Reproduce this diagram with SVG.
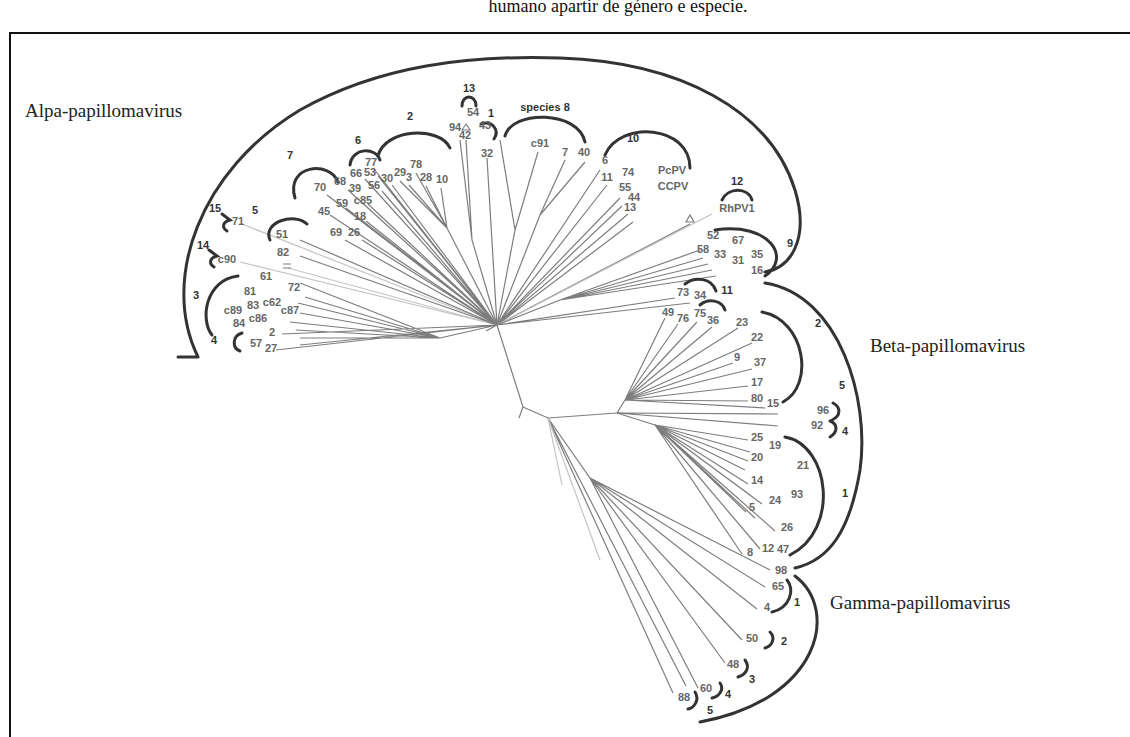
<svg xmlns="http://www.w3.org/2000/svg" width="1130" height="737" viewBox="0 0 1130 737">
<style>
.t{stroke:#7d7d7d;stroke-width:1.2;fill:none}
.tf{stroke:#c4c4c4;stroke-width:1.2;fill:none}
.a{stroke:#333;stroke-width:3;fill:none;stroke-linecap:round}
.n{font-family:"Liberation Sans",Arial,sans-serif;font-size:11px;font-weight:bold;fill:#666;text-anchor:middle}
.s{font-family:"Liberation Sans",Arial,sans-serif;font-size:11px;font-weight:bold;fill:#333;text-anchor:middle}
.g{font-family:"Liberation Serif","Times New Roman",serif;font-size:19px;fill:#222}
.cap{font-family:"Liberation Serif","Times New Roman",serif;font-size:18px;fill:#111;text-anchor:middle}
</style>
<rect width="1130" height="737" fill="#fff"/>
<text class="cap" x="618" y="12">humano apartir de género e especie.</text>
<path d="M10,737 V33 H1130" stroke="#111" stroke-width="2" fill="none"/>

<g id="branches">
<path class="t" d="M497,325 L523,407 L519,418 M523,407 L548,418 L617,413 M497,325 L486,331"/>
<path class="t" d="M497,325 L440,338 M440,338 L300,283 M440,338 L305,297 M440,338 L298,303 M440,338 L300,313 M440,338 L290,322 M440,338 L296,330 M440,338 L300,338 M497,325 L282,334 M497,325 L276,350 M497,325 L300,345"/>
<path class="tf" d="M497,325 L242,224 M497,325 L240,262 M497,325 L288,268"/>
<path class="t" d="M497,325 L300,240 M497,325 L300,256"/>
<path class="t" d="M497,325 L330,215 M497,325 L346,208 M497,325 L368,204 M497,325 L366,221 M497,325 L345,240 M497,325 L362,240 M497,325 L327,195 M497,325 L348,190 M497,325 L358,199 M497,325 L365,179 M497,325 L378,176 M497,325 L382,191 M497,325 L392,185 M497,325 L374,169"/>
<path class="t" d="M497,325 L447,228 M447,228 L400,181 M447,228 L409,185 M447,228 L416,173 M447,228 L426,186 M447,228 L441,188"/>
<path class="t" d="M497,325 L472,240 L466,140 M472,240 L460,140 M497,325 L487,158"/>
<path class="t" d="M497,325 L515,230 L500,140 M515,230 L538,152 M497,325 L540,215 L565,160 M540,215 L585,162"/>
<path class="t" d="M497,325 L600,170 M497,325 L607,185 M497,325 L620,198 M497,325 L622,206 M497,325 L628,214 M497,325 L633,222 M497,325 L690,224"/>
<path class="tf" d="M497,325 L712,214"/>
<path class="t" d="M497,325 L560,300 L700,250 M560,300 L703,258 M560,300 L708,264 M560,300 L712,270 M560,300 L716,276 M497,325 L675,298 M497,325 L690,303"/>
<path class="t" d="M617,413 L625,400 L665,318 M625,400 L678,324 M625,400 L697,322 M625,400 L712,327 M625,400 L738,328 M625,400 L752,343 M625,400 L733,363 M625,400 L752,369 M625,400 L748,386 M625,400 L748,401 M625,400 L765,408"/>
<path class="t" d="M617,413 L778,414 M617,413 L778,426"/>
<path class="t" d="M617,413 L655,425 L748,440 M655,425 L750,452 M655,425 L748,461 M655,425 L745,470 M655,425 L748,484 M655,425 L750,495 M655,425 L762,504 M655,425 L746,512 M655,425 L755,518 M655,425 L775,531 M655,425 L760,549 M655,425 L742,554"/>
<path class="t" d="M548,418 L590,478 L770,570 M590,478 L765,587 M590,478 L757,609 M590,478 L742,640 M590,478 L725,663 M590,478 L698,688 M548,418 L673,693 M548,418 L686,686"/>
<path class="tf" d="M548,418 L562,485 M548,418 L600,560"/>
<path class="t" d="M462,130 l4,-6 l4,6 z M686,222 l4,-7 l4,7 z M283,264 h8 M283,268 h8"/>
</g>

<g id="alpha">
<text class="g" x="25" y="117">Alpa-papillomavirus</text>
<path class="a" d="M178,357 H198 M198,357 C160,280 200,170 300,110 C380,65 470,55 560,58 C680,62 770,110 795,190 C810,240 790,268 765,272"/>
</g>
<g id="alpha-13"><path class="a" d="M462,106 C462,94 476,94 476,106"/><text class="s" x="469" y="92">13</text><text class="n" x="473" y="116">54</text></g>
<g id="alpha-1"><path class="a" d="M481,124 C492,120 500,130 494,139"/><text class="s" x="491" y="117">1</text><text class="n" x="465" y="139">42</text><text class="n" x="487" y="157">32</text></g>
<g id="alpha-8"><path class="a" d="M505,136 C512,110 578,110 585,142"/><text class="s" x="545" y="111">species 8</text><text class="n" x="485" y="129">43</text><text class="n" x="540" y="147">c91</text><text class="n" x="565" y="156">7</text><text class="n" x="584" y="156">40</text></g>
<g id="alpha-2"><path class="a" d="M378,156 C385,128 440,126 450,148"/><text class="s" x="410" y="120">2</text><text class="n" x="455" y="131">94</text><text class="n" x="371" y="166">77</text><text class="n" x="400" y="176">29</text><text class="n" x="409" y="181" font-size="9">3</text><text class="n" x="416" y="168">78</text><text class="n" x="426" y="181">28</text><text class="n" x="442" y="183">10</text></g>
<g id="alpha-6"><path class="a" d="M350,165 C352,147 376,147 380,160"/><text class="s" x="358" y="144">6</text><text class="n" x="356" y="177">66</text><text class="n" x="370" y="176">53</text><text class="n" x="374" y="189">56</text><text class="n" x="387" y="182">30</text></g>
<g id="alpha-7"><path class="a" d="M295,198 C285,165 330,160 338,182"/><text class="s" x="290" y="159">7</text><text class="n" x="320" y="191">70</text><text class="n" x="340" y="185">68</text><text class="n" x="355" y="192">39</text><text class="n" x="324" y="215">45</text><text class="n" x="342" y="207">59</text><text class="n" x="363" y="204">c85</text><text class="n" x="360" y="220">18</text></g>
<g id="alpha-5"><path class="a" d="M270,240 C262,222 295,212 307,224"/><text class="s" x="255" y="214">5</text><text class="n" x="282" y="238">51</text><text class="n" x="283" y="256">82</text><text class="n" x="336" y="236">69</text><text class="n" x="354" y="236">26</text></g>
<g id="alpha-15"><path class="a" d="M222,214 L230,220 C222,222 222,228 227,231"/><text class="s" x="215" y="212">15</text><text class="n" x="238" y="225">71</text></g>
<g id="alpha-14"><path class="a" d="M209,250 L217,256 C209,258 209,264 214,267"/><text class="s" x="203" y="249">14</text><text class="n" x="227" y="263">c90</text></g>
<g id="alpha-3"><path class="a" d="M238,276 C205,280 200,320 212,335"/><text class="s" x="196" y="299">3</text><text class="n" x="266" y="280">61</text><text class="n" x="250" y="295">81</text><text class="n" x="294" y="291">72</text><text class="n" x="272" y="306">c62</text><text class="n" x="233" y="314">c89</text><text class="n" x="253" y="309">83</text><text class="n" x="290" y="314">c87</text><text class="n" x="239" y="327">84</text><text class="n" x="258" y="322">c86</text></g>
<g id="alpha-4"><path class="a" d="M242,333 C232,336 232,348 240,351"/><text class="s" x="214" y="344">4</text><text class="n" x="272" y="336">2</text><text class="n" x="256" y="347">57</text><text class="n" x="271" y="352" font-size="9">27</text></g>
<g id="alpha-10"><path class="a" d="M605,155 C620,120 690,125 690,168"/><text class="s" x="633" y="142">10</text><text class="n" x="605" y="164">6</text><text class="n" x="628" y="176">74</text><text class="n" x="607" y="181">11</text><text class="n" x="625" y="191">55</text><text class="n" x="634" y="201">44</text><text class="n" x="630" y="211">13</text><text class="n" x="672" y="174">PcPV</text><text class="n" x="673" y="190">CCPV</text></g>
<g id="alpha-12"><path class="a" d="M722,200 C728,187 748,187 752,200"/><text class="s" x="737" y="185">12</text><text class="n" x="737" y="212">RhPV1</text></g>
<g id="alpha-9"><path class="a" d="M715,230 C770,222 792,258 765,276"/><text class="s" x="790" y="247">9</text><text class="n" x="713" y="239">52</text><text class="n" x="738" y="244">67</text><text class="n" x="703" y="253">58</text><text class="n" x="720" y="258">33</text><text class="n" x="738" y="264">31</text><text class="n" x="757" y="258">35</text><text class="n" x="757" y="274">16</text></g>
<g id="alpha-11"><path class="a" d="M685,284 C695,276 712,278 716,291"/><text class="s" x="727" y="294">11</text><text class="n" x="683" y="296">73</text><text class="n" x="700" y="299">34</text></g>

<g id="beta">
<text class="g" x="870" y="352">Beta-papillomavirus</text>
<path class="a" d="M765,283 C840,295 870,400 860,470 C850,530 830,560 795,568"/>
</g>
<g id="beta-3"><path class="a" d="M700,305 C708,298 722,300 725,310"/><text class="n" x="668" y="316">49</text><text class="n" x="683" y="322">76</text><text class="n" x="700" y="317">75</text></g>
<g id="beta-2"><path class="a" d="M762,312 C805,320 815,385 783,402"/><text class="s" x="818" y="327">2</text><text class="n" x="742" y="326">23</text><text class="n" x="757" y="341">22</text><text class="n" x="737" y="361">9</text><text class="n" x="760" y="366">37</text><text class="n" x="757" y="386">17</text><text class="n" x="757" y="402">80</text><text class="n" x="773" y="407">15</text></g>
<g id="beta-5"><path class="a" d="M833,403 C841,407 841,416 832,420"/><text class="s" x="842" y="389">5</text><text class="n" x="823" y="414">96</text></g>
<g id="beta-4"><path class="a" d="M830,421 C838,424 838,432 830,437"/><text class="s" x="845" y="435">4</text><text class="n" x="817" y="429">92</text></g>
<g id="beta-1"><path class="a" d="M785,437 C830,445 840,530 790,555"/><text class="s" x="845" y="497">1</text><text class="n" x="713" y="324">36</text><text class="n" x="757" y="441">25</text><text class="n" x="775" y="449">19</text><text class="n" x="757" y="461">20</text><text class="n" x="803" y="469">21</text><text class="n" x="757" y="484">14</text><text class="n" x="797" y="498">93</text><text class="n" x="775" y="504">24</text><text class="n" x="752" y="511">5</text><text class="n" x="787" y="531">26</text><text class="n" x="768" y="552">12</text><text class="n" x="783" y="553">47</text><text class="n" x="750" y="556">8</text></g>

<g id="gamma">
<text class="g" x="830" y="609">Gamma-papillomavirus</text>
<path class="a" d="M795,576 C840,610 820,700 700,722"/>
</g>
<g id="gamma-1"><path class="a" d="M787,580 C795,590 790,608 772,612"/><text class="s" x="797" y="606">1</text><text class="n" x="781" y="574">98</text><text class="n" x="778" y="590">65</text><text class="n" x="767" y="611">4</text></g>
<g id="gamma-2"><path class="a" d="M770,632 C776,638 772,646 765,648"/><text class="s" x="784" y="645">2</text><text class="n" x="752" y="642">50</text></g>
<g id="gamma-3"><path class="a" d="M745,660 C751,668 745,675 738,677"/><text class="s" x="752" y="683">3</text><text class="n" x="733" y="668">48</text></g>
<g id="gamma-4"><path class="a" d="M720,683 C725,690 718,697 712,698"/><text class="s" x="728" y="698">4</text><text class="n" x="706" y="692">60</text></g>
<g id="gamma-5"><path class="a" d="M695,692 C700,700 694,708 688,709"/><text class="s" x="710" y="714">5</text><text class="n" x="684" y="701">88</text></g>
</svg>
